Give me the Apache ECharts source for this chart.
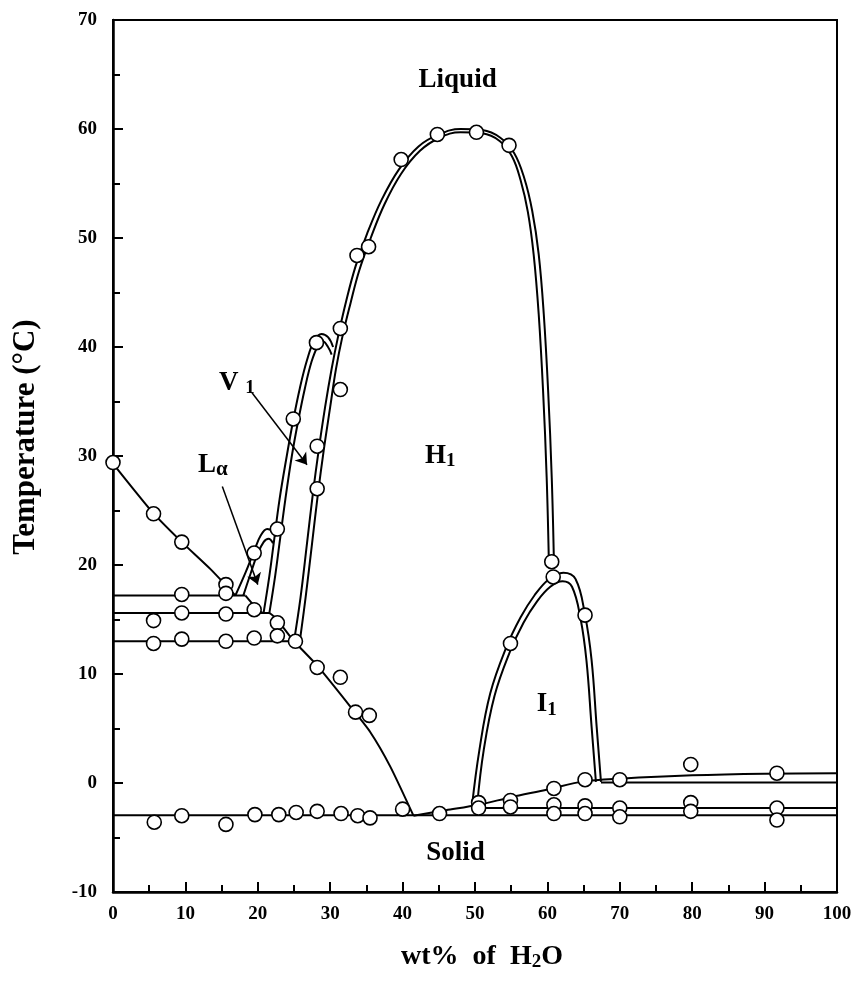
<!DOCTYPE html>
<html>
<head>
<meta charset="utf-8">
<script src="https://cdn.jsdelivr.net/npm/echarts@6/dist/echarts.min.js"></script>
<style>
  html, body { margin: 0; padding: 0; background: #fff; }
  #chart { width: 859px; height: 983px; }
</style>
</head>
<body>
<div id="chart"></div>
<script>
// Phase diagram: surfactant / water, temperature vs. wt% of water.

// Axis ranges and ticks
const xRange = [0, 100];
const yRange = [-10, 70];
const xStep = 10;
const yStep = 10;

// Phase boundaries (wt% H2O, °C)
const liquidusLeft = [[0, 29.3], [5.5, 24.8], [9.5, 22.1], [13.5, 19.6], [16.9, 17.2]];
const plateau17 = [[0, 17.2], [18.3, 17.2]];
const plateau156 = [[0, 15.6], [21.5, 15.6]];
const plateau13 = [[0, 13.0], [25.0, 13.0]];
const solidusStep = [[18.3, 17.2], [20.8, 15.6], [21.5, 15.6], [25.0, 13.0], [28.3, 10.7], [32.8, 7.0], [35.5, 4.7], [38.3, 1.5], [41.5, -3.0]];
const solidLine = [[0, -2.95], [100, -2.95]];
const lowerRise = [[41.5, -3.0], [46, -2.5], [50.5, -2.0], [55, -1.3], [60, -0.6], [65, 0.15], [70, 0.4], [80, 0.7], [90, 0.85], [100, 0.9]];
const flatZero = [[67.4, 0.05], [100, 0.05]];
const flatLow = [[50.0, -2.3], [100, -2.3]];

const lamellarOuter = [[16.9, 17.2], [18.3, 19.3], [19.5, 21.3], [20.4, 22.7], [21.3, 23.3], [22.0, 23.1], [22.5, 22.6]];
const lamellarInner = [[18.0, 17.2], [19.0, 19.2], [19.9, 20.9], [20.8, 22.1], [21.5, 22.4], [22.1, 22.0]];

const cubicV1Outer = [[20.8, 15.6], [21.6, 19], [22.2, 22], [23.0, 26], [24.0, 30], [24.9, 33.3], [25.8, 36.2], [26.8, 38.8], [27.8, 40.6], [28.8, 41.2], [29.7, 40.9], [30.4, 40.0]];
const cubicV1Inner = [[21.6, 15.6], [22.4, 19], [23.0, 22], [23.8, 26], [24.7, 30], [25.6, 33.3], [26.5, 36.2], [27.4, 38.6], [28.3, 40.1], [29.0, 40.5], [29.7, 40.0], [30.2, 39.3]];

const hexOuter = [[25.0, 13.0], [25.9, 17], [26.8, 22], [27.6, 26.5], [28.4, 30.5], [29.3, 34.5], [30.2, 38.0], [31.1, 41.0], [32.2, 44.2], [33.5, 47.4], [35.1, 50.4], [37.1, 53.5], [39.5, 56.3], [42.2, 58.4], [45, 59.5], [48, 60.0], [51, 59.9], [53.5, 59.2], [55.4, 57.8], [56.8, 55.5], [57.9, 52.5], [58.8, 48.5], [59.5, 43], [60.1, 36], [60.6, 28], [60.9, 20.3]];
const hexInner = [[25.8, 13.0], [26.6, 17], [27.5, 22], [28.3, 26.5], [29.1, 30.5], [30.0, 34.5], [30.8, 38.0], [31.7, 41.0], [32.8, 44.0], [34.0, 47.0], [35.6, 50.0], [37.5, 53.1], [39.8, 55.9], [42.4, 58.0], [45.1, 59.2], [48, 59.7], [51, 59.6], [53.4, 58.9], [55.1, 57.5], [56.3, 55.3], [57.3, 52.4], [58.1, 48.5], [58.8, 43], [59.4, 36], [59.9, 28], [60.2, 20.3]];

const cubicI1Outer = [[49.6, -2.0], [50.6, 3], [52.1, 8.2], [54.3, 12.4], [56.3, 15.2], [58.2, 17.2], [60.2, 18.7], [62.2, 19.3], [63.9, 18.7], [65.2, 15.4], [66.1, 11.3], [66.8, 5.2], [67.4, 0.1]];
const cubicI1Inner = [[50.3, -2.0], [51.2, 3], [52.7, 8.0], [54.8, 12.0], [56.7, 14.7], [58.5, 16.6], [60.4, 18.0], [62.1, 18.5], [63.4, 18.0], [64.6, 15.0], [65.4, 11.2], [66.1, 5.2], [66.7, 0.1]];

// Measured points
const measured = [
  [0, 29.4], [5.6, 24.7], [9.5, 22.1], [15.6, 18.2], [15.6, 17.4], [9.5, 17.3], [19.5, 21.1], [22.7, 23.3],
  [5.6, 14.9], [9.5, 15.6], [15.6, 15.5], [19.5, 15.9], [22.7, 14.7],
  [5.6, 12.8], [9.5, 13.2], [15.6, 13.0], [19.5, 13.3], [22.7, 13.5], [25.2, 13.0],
  [28.2, 10.6], [31.4, 9.7], [33.5, 6.5], [35.4, 6.2],
  [24.9, 33.4], [28.1, 40.4], [31.4, 41.7], [31.4, 36.1], [28.2, 30.9], [28.2, 27.0],
  [33.7, 48.4], [35.3, 49.2], [39.8, 57.2], [44.8, 59.5], [50.2, 59.7], [54.7, 58.5],
  [54.9, 12.8], [60.8, 18.9], [60.6, 20.3], [65.2, 15.4],
  [5.7, -3.6], [9.5, -3.0], [15.6, -3.8], [19.6, -2.9], [22.9, -2.9], [25.3, -2.7], [28.2, -2.6],
  [31.5, -2.8], [33.8, -3.0], [35.5, -3.2], [40.0, -2.4], [45.1, -2.8],
  [50.5, -1.8], [50.5, -2.3], [54.9, -1.6], [54.9, -2.2], [60.9, -0.5], [60.9, -2.0], [60.9, -2.8],
  [65.2, 0.3], [65.2, -2.1], [65.2, -2.8], [70.0, 0.3], [70.0, -2.3], [70.0, -3.1],
  [79.8, 1.7], [79.8, -1.8], [79.8, -2.6], [91.7, 0.9], [91.7, -2.3], [91.7, -3.4]
];

// Phase labels and pointer arrows
const phaseLabels = [
  { at: [47.6, 64.5], text: '{b|Liquid}' },
  { at: [45.2, 30.0], text: '{b|H}{s|1}' },
  { at: [17.1, 36.7], text: '{b|V }{s|1}' },
  { at: [13.8, 29.2], text: '{b|L}{g|α}' },
  { at: [59.9, 7.2], text: '{b|I}{s|1}' },
  { at: [47.3, -6.4], text: '{b|Solid}' }
];
const pointers = [
  [[19.2, 35.8], [26.8, 29.2]],
  [[15.1, 27.2], [20.0, 18.2]]
];

const serif = '"Liberation Serif", "DejaVu Serif", serif';

const curves = [
  [liquidusLeft, 0.2], [plateau17, 0], [plateau156, 0], [plateau13, 0],
  [solidusStep, 0.2], [solidLine, 0], [lowerRise, 0.3], [flatZero, 0], [flatLow, 0],
  [lamellarOuter, 0.4], [lamellarInner, 0.4],
  [cubicV1Outer, 0.4], [cubicV1Inner, 0.4],
  [hexOuter, 0.4], [hexInner, 0.4],
  [cubicI1Outer, 0.4], [cubicI1Inner, 0.4]
];

const series = curves.map(([pts, sm]) => ({
  type: 'line',
  data: pts,
  smooth: sm,
  symbol: 'none',
  lineStyle: { color: '#000', width: 2 },
  silent: true,
  z: 2
}));

series.push({
  type: 'lines',
  coordinateSystem: 'cartesian2d',
  symbol: ['none', 'arrow'],
  symbolSize: [0, 11],
  lineStyle: { color: '#000', width: 1.5, opacity: 1 },
  data: pointers.map(c => ({ coords: c })),
  silent: true,
  z: 3
});

series.push({
  type: 'scatter',
  data: measured,
  symbol: 'circle',
  symbolSize: 14,
  itemStyle: { color: '#fff', borderColor: '#000', borderWidth: 1.6, opacity: 1 },
  silent: true,
  z: 4
});

const axisText = { color: '#000', fontFamily: serif, fontWeight: 'bold', fontSize: 19 };

const chart = echarts.init(document.getElementById('chart'), null, { renderer: 'canvas' });
chart.setOption({
  animation: false,
  backgroundColor: '#fff',
  grid: {
    left: 113, right: 22, top: 20, bottom: 91,
    outerBoundsMode: 'none', containLabel: false,
    show: true, borderColor: '#000', borderWidth: 2
  },
  xAxis: {
    type: 'value', min: xRange[0], max: xRange[1], interval: xStep,
    name: '{t|wt%  of  H}{s|2}{t|O}', nameLocation: 'middle', nameGap: 50,
    nameTextStyle: {
      padding: [0, 0, 0, 14],
      rich: {
        t: { fontFamily: serif, fontWeight: 'bold', fontSize: 28, color: '#000', lineHeight: 30 },
        s: { fontFamily: serif, fontWeight: 'bold', fontSize: 19, color: '#000', lineHeight: 18, verticalAlign: 'bottom', padding: [6, 0, 0, 0] }
      }
    },
    axisLine: { onZero: false, lineStyle: { color: '#000', width: 2.5 } },
    axisTick: { inside: true, length: 10, lineStyle: { color: '#000', width: 2 } },
    minorTick: { show: true, splitNumber: 2, length: 7, lineStyle: { color: '#000', width: 2 } },
    axisLabel: Object.assign({ margin: 13 }, axisText),
    splitLine: { show: false }
  },
  yAxis: {
    type: 'value', min: yRange[0], max: yRange[1], interval: yStep,
    name: 'Temperature (°C)', nameLocation: 'middle', nameGap: 72,
    nameTextStyle: {
      color: '#000', fontFamily: serif, fontWeight: 'bold', fontSize: 31,
      padding: [0, 0, 0, 38]
    },
    axisLine: { onZero: false, lineStyle: { color: '#000', width: 2.5 } },
    axisTick: { inside: true, length: 10, lineStyle: { color: '#000', width: 2 } },
    minorTick: { show: true, splitNumber: 2, length: 7, lineStyle: { color: '#000', width: 2 } },
    axisLabel: Object.assign({ margin: 16 }, axisText),
    splitLine: { show: false }
  },
  series: series
});

// Place phase labels at data positions
const rich = {
  b: { fontFamily: serif, fontWeight: 'bold', fontSize: 27, color: '#000', lineHeight: 30 },
  s: { fontFamily: serif, fontWeight: 'bold', fontSize: 19, color: '#000', lineHeight: 18, verticalAlign: 'bottom', padding: [6, 0, 0, 0] },
  g: { fontFamily: serif, fontWeight: 'bold', fontSize: 21, color: '#000', lineHeight: 20, verticalAlign: 'bottom', padding: [6, 0, 0, 0] }
};
chart.setOption({
  graphic: phaseLabels.map(l => {
    const p = chart.convertToPixel({ gridIndex: 0 }, l.at);
    return {
      type: 'text', x: p[0], y: p[1], z: 10, silent: true,
      style: { text: l.text, rich: rich, align: 'center', verticalAlign: 'middle' }
    };
  })
});
</script>
</body>
</html>
